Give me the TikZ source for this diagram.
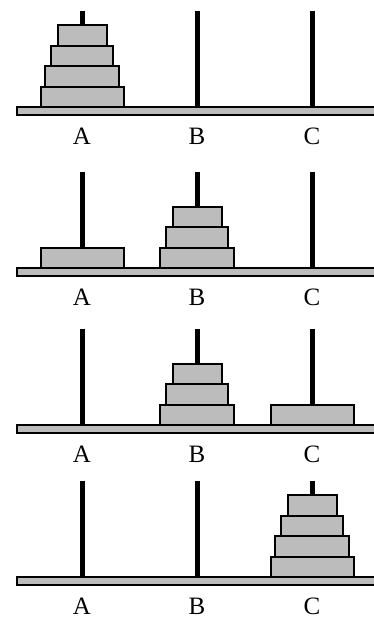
\documentclass[tikz,border=0pt]{standalone}
\usepackage{fontspec}
\setmainfont{Liberation Serif}
\usepackage{tikz}
\definecolor{diskgray}{RGB}{188,188,188}

\begin{document}
\begin{tikzpicture}[x=1pt,y=-1pt]
		\tikzset{peg/.style={line width=5pt},
			disk/.style={draw=black,fill=diskgray,line width=2pt},
			plate/.style={draw=black,fill=diskgray,line width=1.8pt},
			pegname/.style={font=\fontsize{25}{30}\selectfont}};
		\useasboundingbox (0,0) rectangle (374,621);
		\clip (0,0) rectangle (374,621);
		% one row per move: base height, then disks as peg x / level / half width
		\foreach \yb/\disks [count=\i] in {107/{82/0/41.5,82/1/37,82/2/31,82/3/24.5},
			268/{82/0/41.5,197/0/37,197/1/31,197/2/24.5},
			425/{197/0/37,197/1/31,197/2/24.5,312/0/41.5},
			577/{312/0/41.5,312/1/37,312/2/31,312/3/24.5}}{
			\filldraw[plate] (17,\yb) rectangle (385,{\yb+8});
			\foreach \x/\name in {82/A,197/B,312/C}{
				\draw[peg] (\x,{\yb-96.5}) -- (\x,\yb);
				\node[pegname] (\name\i) at (\x,{\yb+29}) {\name};
			}
			\foreach \x/\l/\w in \disks
				\filldraw[disk] ({\x-\w},{\yb-20.5*\l}) rectangle ({\x+\w},{\yb-20.5*(\l+1)});
		}
	\end{tikzpicture}
\end{document}
